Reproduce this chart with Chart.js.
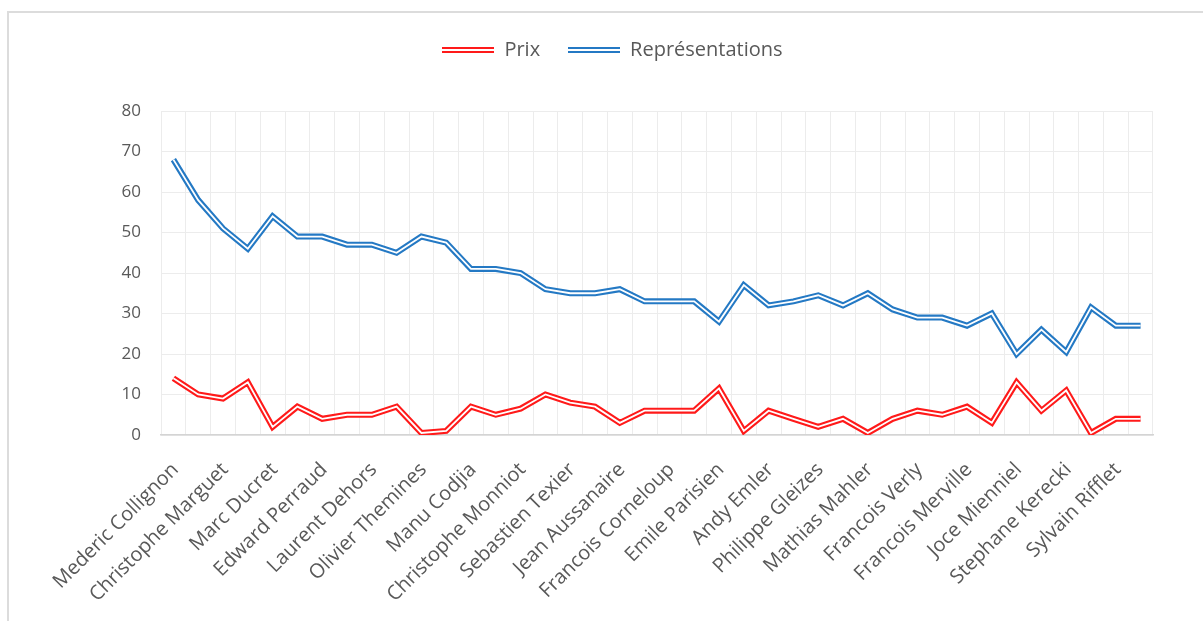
<!DOCTYPE html>
<html>
<head>
<meta charset="utf-8">
<script src="https://cdn.jsdelivr.net/npm/chart.js@4.4.1/dist/chart.umd.min.js"></script>
<style>
  html, body { margin: 0; padding: 0; background: #fff; overflow: hidden; }
  #frame { position: absolute; left: 7px; top: 11px; width: 1300px; height: 700px;
           border-left: 2px solid #dcdcdc; border-top: 2px solid #dcdcdc; }
  #wrap { position: absolute; left: 0; top: 0; width: 1203px; height: 621px; }
</style>
</head>
<body>
<div id="frame"></div>
<div id="wrap"><canvas id="lineChart"></canvas></div>
<script>
// Categories (only every other name is printed on the axis)
const categories = [
  "Mederic Collignon", "", "Christophe Marguet", "", "Marc Ducret", "",
  "Edward Perraud", "", "Laurent Dehors", "", "Olivier Themines", "",
  "Manu Codjia", "", "Christophe Monniot", "", "Sebastien Texier", "",
  "Jean Aussanaire", "", "Francois Corneloup", "", "Emile Parisien", "",
  "Andy Emler", "", "Philippe Gleizes", "", "Mathias Mahler", "",
  "Francois Verly", "", "Francois Merville", "", "Joce Mienniel", "",
  "Stephane Kerecki", "", "Sylvain Rifflet", ""
];

const prix = [
  14, 10, 9, 13, 2, 7, 4, 5, 5, 7,
  0.5, 1, 7, 5, 6.5, 10, 8, 7, 3, 6,
  6, 6, 11.5, 1, 6, 4, 2, 4, 0.5, 4,
  6, 5, 7, 3, 13, 6, 11, 0.5, 4, 4
];

const representations = [
  68, 58, 51, 46, 54, 49, 49, 47, 47, 45,
  49, 47.5, 41, 41, 40, 36, 35, 35, 36, 33,
  33, 33, 28, 37, 32, 33, 34.5, 32, 35, 31,
  29, 29, 27, 30, 20, 26, 20.5, 31.5, 27, 27
];

const yTicks = [0, 10, 20, 30, 40, 50, 60, 70, 80];

const RED = "#ff1a1a";
const BLUE = "#2479c4";
const TEXT = "#595959";
const FONT = "'Open Sans', 'Liberation Sans', sans-serif";

// Legend marker: double line
function doubleLine(color) {
  const c = document.createElement("canvas");
  c.width = 52;
  c.height = 8;
  const g = c.getContext("2d");
  g.fillStyle = color;
  g.fillRect(0, 1, 52, 2);
  g.fillRect(0, 5, 52, 2);
  return c;
}

// Extra space below the legend, and legend moved a bit to the right
const legendSpacer = {
  id: "legendSpacer",
  beforeInit(chart) {
    const fit = chart.legend.fit;
    chart.legend.fit = function () {
      fit.bind(chart.legend)();
      this.height += 41;
    };
  },
  afterLayout(chart) {
    chart.legend.left += 36;
    chart.legend.right += 36;
  }
};

const ctx = document.getElementById("lineChart").getContext("2d");

new Chart(ctx, {
  type: "line",
  data: {
    labels: categories,
    datasets: [
      { label: "Prix", data: prix, borderColor: RED, backgroundColor: RED,
        borderWidth: 6, pointRadius: 0, tension: 0, order: 1,
        pointStyle: doubleLine(RED) },
      { label: "Représentations", data: representations, borderColor: BLUE, backgroundColor: BLUE,
        borderWidth: 6, pointRadius: 0, tension: 0, order: 1,
        pointStyle: doubleLine(BLUE) },
      { label: "prix-inner", data: prix, borderColor: "#ffffff",
        borderWidth: 1.8, pointRadius: 0, tension: 0, order: 0 },
      { label: "rep-inner", data: representations, borderColor: "#ffffff",
        borderWidth: 1.8, pointRadius: 0, tension: 0, order: 0 }
    ]
  },
  options: {
    responsive: true,
    maintainAspectRatio: false,
    animation: false,
    layout: { padding: { top: 12, right: 50, left: 0, bottom: 0 } },
    scales: {
      x: {
        offset: true,
        grid: { offset: true, color: "#ececec", lineWidth: 1, drawTicks: false },
        border: { color: "#d4d4d4", width: 1.5 },
        ticks: {
          autoSkip: false,
          minRotation: 45,
          maxRotation: 45,
          labelOffset: 2,
          padding: 23,
          color: TEXT,
          font: { family: FONT, size: 20 }
        },
        afterFit(scale) { scale.height = 186; }
      },
      y: {
        min: 0,
        max: 80,
        afterBuildTicks(scale) { scale.ticks = yTicks.map(v => ({ value: v })); },
        grid: { color: "#ececec", lineWidth: 1, drawTicks: false },
        border: { display: false },
        ticks: {
          padding: 20,
          color: TEXT,
          font: { family: FONT, size: 17 }
        },
        afterFit(scale) { scale.width = 161; }
      }
    },
    plugins: {
      legend: {
        display: true,
        position: "top",
        labels: {
          usePointStyle: true,
          pointStyleWidth: 52,
          padding: 28,
          color: TEXT,
          font: { family: FONT, size: 20 },
          filter: item => item.datasetIndex < 2
        }
      },
      tooltip: { enabled: false }
    }
  },
  plugins: [legendSpacer]
});
</script>
</body>
</html>
